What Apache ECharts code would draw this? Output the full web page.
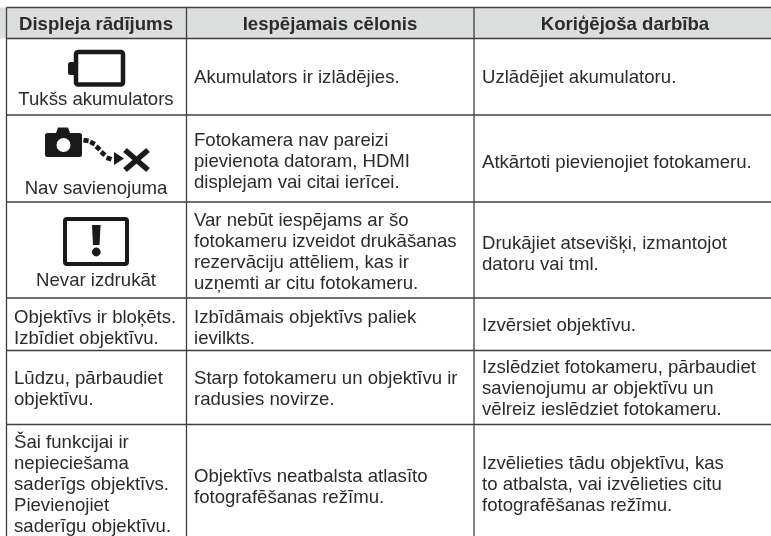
<!DOCTYPE html>
<html>
<head>
<meta charset="utf-8">
<style>
html, body { margin: 0; padding: 0; background: #fff; }
#main { width: 771px; height: 536px; }
</style>
<script src="https://cdn.jsdelivr.net/npm/echarts@6/dist/echarts.min.js"></script>
</head>
<body>
<div id="main"></div>
<script>
// table content
var headers = ['Displeja rādījums', 'Iespējamais cēlonis', 'Koriģējoša darbība'];
var displayTexts = [
	'Tukšs akumulators',
	'Nav savienojuma',
	'Nevar izdrukāt',
	'Objektīvs ir bloķēts.\nIzbīdiet objektīvu.',
	'Lūdzu, pārbaudiet\nobjektīvu.',
	'Šai funkcijai ir\nnepieciešama\nsaderīgs objektīvs.\nPievienojiet\nsaderīgu objektīvu.'
];
var causeTexts = [
	'Akumulators ir izlādējies.',
	'Fotokamera nav pareizi\npievienota datoram, HDMI\ndisplejam vai citai ierīcei.',
	'Var nebūt iespējams ar šo\nfotokameru izveidot drukāšanas\nrezervāciju attēliem, kas ir\nuzņemti ar citu fotokameru.',
	'Izbīdāmais objektīvs paliek\nievilkts.',
	'Starp fotokameru un objektīvu ir\nradusies novirze.',
	'Objektīvs neatbalsta atlasīto\nfotografēšanas režīmu.'
];
var actionTexts = [
	'Uzlādējiet akumulatoru.',
	'Atkārtoti pievienojiet fotokameru.',
	'Drukājiet atsevišķi, izmantojot\ndatoru vai tml.',
	'Izvērsiet objektīvu.',
	'Izslēdziet fotokameru, pārbaudiet\nsavienojumu ar objektīvu un\nvēlreiz ieslēdziet fotokameru.',
	'Izvēlieties tādu objektīvu, kas\nto atbalsta, vai izvēlieties citu\nfotografēšanas režīmu.'
];

// layout, in page pixels (the axes run 0..771 and 0..536)
var columnEdges = [6.5, 186.5, 474];
var rowEdges = [7.5, 38.5, 115, 202, 298, 350.5, 424.5];
var headerCenters = [96, 330, 625];
var headerY = 25;
var textX = [14, 194, 482];
var displayY = [100, 189, 281, 328, 389, 485];
var causeY = [78, 162, 252, 328, 389, 487];
var actionY = [78, 163, 254, 326, 389, 485];
var LINE_HEIGHT = 21;

var FONT = '"Liberation Sans", Arial, sans-serif';
var TEXT_COLOR = '#2b2b2b';
var RULE_COLOR = '#3f3f3f';

// icons are plain svg paths in page pixels
var ICON_COLOR = '#1a1a1a';
var batteryNub = 'M74 62 L70.5 62 Q68 62 68 64.5 L68 72.5 Q68 75 70.5 75 L74 75 Z';
var cameraBody = 'M47.5 133 L56 133 L58 127.5 L68 127.5 L70 133 L79.5 133 Q82 133 82 135.5 L82 154.5 Q82 157 79.5 157 L47.5 157 Q45 157 45 154.5 L45 135.5 Q45 133 47.5 133 Z';
var cameraDots = [
	[86, 140.5, 0.15], [92.5, 143, 0.45], [98, 148, 0.75], [103, 153.5, 0.75], [109, 158.5, 0.3]
];
var cameraArrow = 'M114 152 L124 158.5 L114 165 Z';
var crossLines = [[125, 150, 148, 170], [148, 150, 125, 170]];
var bangBar = 'M92 225 L100.6 225 L99.5 245 L93 245 Z';

function px(api, x, y) {
	return api.coord([x, y]);
}

function renderFrame(params, api) {
	var children = [];
	var p0 = px(api, 0, rowEdges[0]);
	var p1 = px(api, 771, rowEdges[1]);
	children.push({
		type: 'rect',
		shape: { x: p0[0], y: p0[1], width: p1[0] - p0[0], height: p1[1] - p0[1] },
		style: { fill: '#dcdddd' }
	});
	rowEdges.forEach(function(y, i) {
		var a = px(api, columnEdges[0], y);
		var b = px(api, 771, y);
		children.push({
			type: 'line',
			shape: { x1: a[0], y1: a[1], x2: b[0], y2: b[1] },
			style: { stroke: RULE_COLOR, lineWidth: 1.3 }
		});
	});
	columnEdges.forEach(function(x) {
		var a = px(api, x, rowEdges[0]);
		var b = px(api, x, 536);
		children.push({
			type: 'line',
			shape: { x1: a[0], y1: a[1], x2: b[0], y2: b[1] },
			style: { stroke: RULE_COLOR, lineWidth: 1.3 }
		});
	});
	return { type: 'group', children: children };
}

function renderIcons(params, api) {
	var children = [];
	// tukšs akumulators
	children.push({
		type: 'rect',
		shape: { x: 76, y: 52, width: 47, height: 32.5, r: 2 },
		style: { fill: '#fff', stroke: ICON_COLOR, lineWidth: 4.5 }
	});
	children.push({ type: 'path', shape: { pathData: batteryNub }, style: { fill: ICON_COLOR } });
	// nav savienojuma
	children.push({ type: 'path', shape: { pathData: cameraBody }, style: { fill: ICON_COLOR } });
	children.push({ type: 'circle', shape: { cx: 63.5, cy: 145, r: 7 }, style: { fill: '#fff' } });
	cameraDots.forEach(function(d) {
		children.push({
			type: 'rect',
			rotation: -d[2],
			originX: d[0],
			originY: d[1],
			shape: { x: d[0] - 2.6, y: d[1] - 2.3, width: 5.2, height: 4.6 },
			style: { fill: ICON_COLOR }
		});
	});
	children.push({ type: 'path', shape: { pathData: cameraArrow }, style: { fill: ICON_COLOR } });
	crossLines.forEach(function(l) {
		children.push({
			type: 'line',
			shape: { x1: l[0], y1: l[1], x2: l[2], y2: l[3] },
			style: { stroke: ICON_COLOR, lineWidth: 5.5 }
		});
	});
	// nevar izdrukāt
	children.push({
		type: 'rect',
		shape: { x: 65, y: 219, width: 62, height: 45, r: 2 },
		style: { fill: '#fff', stroke: ICON_COLOR, lineWidth: 4 }
	});
	children.push({ type: 'path', shape: { pathData: bangBar }, style: { fill: ICON_COLOR } });
	children.push({ type: 'circle', shape: { cx: 96.3, cy: 252, r: 4.4 }, style: { fill: ICON_COLOR } });
	return { type: 'group', children: children };
}

function textEl(api, text, x, y, align, bold) {
	var p = px(api, x, y);
	return {
		type: 'text',
		x: p[0],
		y: p[1],
		style: {
			text: text,
			fill: TEXT_COLOR,
			font: (bold ? 'bold ' : '') + '18.6px ' + FONT,
			lineHeight: LINE_HEIGHT,
			align: align,
			verticalAlign: 'middle'
		}
	};
}

function renderTexts(params, api) {
	var children = [];
	headers.forEach(function(t, i) {
		children.push(textEl(api, t, headerCenters[i], headerY, 'center', true));
	});
	for (var i = 0; i < displayTexts.length; i++) {
		children.push(textEl(api, displayTexts[i], i < 3 ? headerCenters[0] : textX[0], displayY[i], i < 3 ? 'center' : 'left', false));
		children.push(textEl(api, causeTexts[i], textX[1], causeY[i], 'left', false));
		children.push(textEl(api, actionTexts[i], textX[2], actionY[i], 'left', false));
	}
	return { type: 'group', children: children };
}

var myChart = echarts.init(document.getElementById('main'), null, { renderer: 'canvas' });
myChart.setOption({
	animation: false,
	backgroundColor: '#fff',
	grid: { left: 0, right: 0, top: 0, bottom: 0 },
	xAxis: { type: 'value', min: 0, max: 771, show: false },
	yAxis: { type: 'value', min: 0, max: 536, inverse: true, show: false },
	series: [
		{ type: 'custom', coordinateSystem: 'cartesian2d', silent: true, clip: false, data: [[0, 0]], renderItem: renderFrame },
		{ type: 'custom', coordinateSystem: 'cartesian2d', silent: true, clip: false, data: [[0, 0]], renderItem: renderIcons },
		{ type: 'custom', coordinateSystem: 'cartesian2d', silent: true, clip: false, data: [[0, 0]], renderItem: renderTexts }
	]
});
</script>
</body>
</html>
